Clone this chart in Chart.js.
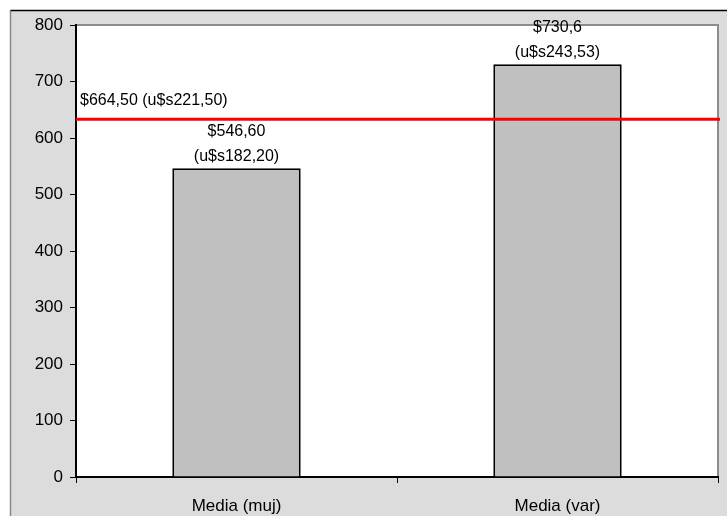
<!DOCTYPE html>
<html>
<head>
<meta charset="utf-8">
<script src="https://cdn.jsdelivr.net/npm/chart.js@4"></script>
<style>
html,body{margin:0;padding:0;background:#fff;}
#wrap{width:727px;height:516px;position:relative;}
</style>
</head>
<body>
<div id="wrap"><canvas id="c" width="727" height="516"></canvas></div>
<script>
const categories = ['Media (muj)', 'Media (var)'];
const values = [546.6, 730.6];
const barLabels = [['$546,60', '(u$s182,20)'], ['$730,6', '(u$s243,53)']];
const refValue = 633;
const refLabel = '$664,50 (u$s221,50)';
const yTicks = [0, 100, 200, 300, 400, 500, 600, 700, 800];

const FONT = '"Liberation Sans", Arial, sans-serif';

const decor = {
  id: 'decor',
  beforeDraw(chart) {
    const ctx = chart.ctx;
    const a = chart.chartArea;
    ctx.save();
    ctx.fillStyle = '#ffffff';
    ctx.fillRect(0, 0, chart.width, chart.height);
    ctx.fillStyle = '#dcdcdc';
    ctx.fillRect(10, 10, chart.width - 10, chart.height - 10);
    ctx.lineWidth = 1.5;
    ctx.strokeStyle = '#888';
    ctx.beginPath();
    ctx.moveTo(10.5, chart.height);
    ctx.lineTo(10.5, 10.5);
    ctx.stroke();
    ctx.strokeStyle = '#000';
    ctx.beginPath();
    ctx.moveTo(10.5, 10.5);
    ctx.lineTo(chart.width, 10.5);
    ctx.stroke();
    ctx.fillStyle = '#ffffff';
    ctx.fillRect(a.left, a.top, a.right - a.left, a.bottom - a.top);
    ctx.strokeStyle = '#8c8c8c';
    ctx.lineWidth = 2;
    ctx.beginPath();
    ctx.moveTo(a.left, a.top);
    ctx.lineTo(a.right, a.top);
    ctx.lineTo(a.right, a.bottom);
    ctx.stroke();
    ctx.restore();
  },
  afterDatasetsDraw(chart) {
    const ctx = chart.ctx;
    const a = chart.chartArea;
    const y = chart.scales.y.getPixelForValue(refValue);
    ctx.save();
    ctx.strokeStyle = '#ff0000';
    ctx.lineWidth = 3;
    ctx.beginPath();
    ctx.moveTo(a.left, y);
    ctx.lineTo(a.right + 2, y);
    ctx.stroke();
    ctx.fillStyle = '#000';
    ctx.font = '16px ' + FONT;
    ctx.textAlign = 'left';
    ctx.textBaseline = 'middle';
    ctx.fillText(refLabel, a.left + 4, y - 19);
    const meta = chart.getDatasetMeta(0);
    ctx.textAlign = 'center';
    meta.data.forEach((bar, i) => {
      const lines = barLabels[i];
      ctx.fillText(lines[0], bar.x, bar.y - 37);
      ctx.fillText(lines[1], bar.x, bar.y - 12);
    });
    ctx.restore();
  }
};

new Chart(document.getElementById('c'), {
  type: 'bar',
  data: {
    labels: categories,
    datasets: [{
      data: values,
      backgroundColor: '#c0c0c0',
      borderColor: '#000000',
      borderWidth: 2,
      borderSkipped: 'bottom',
      barPercentage: 0.4,
      categoryPercentage: 1.0
    }]
  },
  options: {
    responsive: false,
    animation: false,
    devicePixelRatio: 1,
    layout: { padding: { top: 25, right: 9, left: 10, bottom: 0 } },
    plugins: { legend: { display: false }, tooltip: { enabled: false } },
    scales: {
      x: {
        offset: true,
        grid: { offset: true, drawOnChartArea: false, color: '#000', tickLength: 6, tickWidth: 1 },
        border: { color: '#000', width: 2 },
        ticks: { color: '#000', font: { size: 17, family: FONT }, padding: 13 },
        afterFit(s) { s.height = 39; }
      },
      y: {
        min: 0, max: 800,
        afterBuildTicks(s) { s.ticks = yTicks.map(v => ({ value: v })); },
        grid: { drawOnChartArea: false, color: '#000', tickLength: 6, tickWidth: 1 },
        border: { color: '#000', width: 2 },
        ticks: { color: '#000', font: { size: 17, family: FONT }, padding: 7 },
        afterFit(s) { s.width = 66; }
      }
    }
  },
  plugins: [decor]
});
</script>
</body>
</html>
